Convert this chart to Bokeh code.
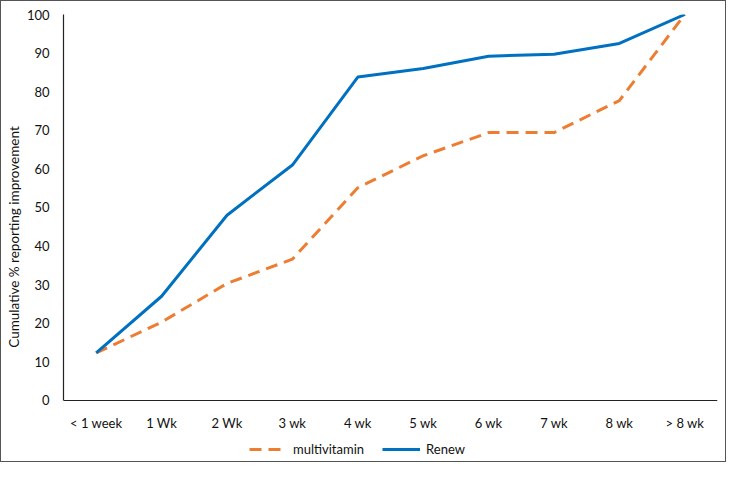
from bokeh.plotting import figure
from bokeh.models import Legend, LegendItem, Range1d, FixedTicker, Title
from bokeh.layouts import column
from bokeh.embed import file_html
from bokeh.resources import INLINE

categories = ["< 1 week", "1 Wk", "2 Wk", "3 wk", "4 wk", "5 wk", "6 wk", "7 wk", "8 wk", "> 8 wk"]
multivitamin = [12.3, 20.3, 30.3, 36.6, 55.1, 63.4, 69.4, 69.4, 77.7, 100]
renew = [12.3, 27.0, 48.0, 61.0, 83.8, 86.0, 89.2, 89.7, 92.5, 100]
y_ticks = [0, 10, 20, 30, 40, 50, 60, 70, 80, 90, 100]

FONT = "Lato"

p = figure(x_range=categories, width=724, height=460, output_backend="svg",
           toolbar_location=None, min_border_left=6, min_border_right=8,
           min_border_top=13, min_border_bottom=2)
# frame extends below 0 so the x labels and legend sit inside it
p.y_range = Range1d(-15.3, 100)
p.outline_line_color = None
p.xgrid.grid_line_color = None
p.ygrid.grid_line_color = None
p.background_fill_color = "white"
p.border_fill_color = "white"

r_mv = p.line(categories, multivitamin, line_color="#ED7D31", line_width=3, line_dash="12 7")
r_rn = p.line(categories, renew, line_color="#0070C0", line_width=3)

for ax in (p.xaxis[0], p.yaxis[0]):
    ax.axis_line_color = "#222222"
    ax.axis_line_width = 1.2
    ax.major_tick_line_color = None
    ax.minor_tick_line_color = None
    ax.major_label_text_font = FONT
    ax.major_label_text_font_size = "13px"
    ax.major_label_text_color = "#111111"

p.xaxis[0].fixed_location = 0
p.xaxis[0].major_label_standoff = 9
p.yaxis[0].ticker = FixedTicker(ticks=y_ticks)
p.yaxis[0].bounds = (0, 100)
p.yaxis[0].major_label_standoff = 8

ylab = Title(text="Cumulative % reporting improvement", align="center", offset=35,
             text_font=FONT, text_font_size="13.5px", text_font_style="normal",
             text_color="#111111", standoff=4)
p.add_layout(ylab, "left")

legend = Legend(items=[LegendItem(label="multivitamin", renderers=[r_mv]),
                       LegendItem(label="Renew", renderers=[r_rn])],
                orientation="horizontal", location=(186, 0),
                border_line_color=None, background_fill_alpha=0,
                glyph_width=38, label_text_font=FONT, label_text_font_size="13px",
                label_text_color="#111111", spacing=18, padding=0, margin=0,
                label_standoff=6)
p.add_layout(legend, "center")

layout = column(p, styles={"border": "1px solid #555555"})

open("out.html", "w").write(file_html(layout, INLINE))
